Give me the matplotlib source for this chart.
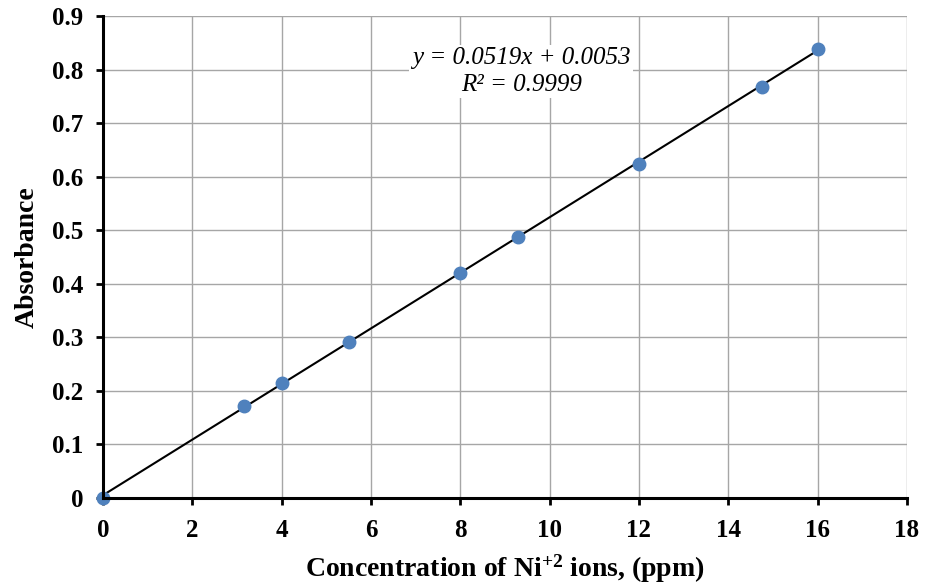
import matplotlib.pyplot as plt
import numpy as np

# concentrations (ppm) et absorbances mesurees
conc = [0, 3.15, 4.0, 5.5, 8.0, 9.3, 12.0, 14.75, 16.0]
absorb = [0, 0.172, 0.215, 0.292, 0.420, 0.487, 0.624, 0.767, 0.839]

# droite d'etalonnage
pente = 0.0519
ordonnee = 0.0053
r2 = 0.9999

x_ticks = [0, 2, 4, 6, 8, 10, 12, 14, 16, 18]
y_ticks = [0, 0.1, 0.2, 0.3, 0.4, 0.5, 0.6, 0.7, 0.8, 0.9]
y_labels = ['0', '0.1', '0.2', '0.3', '0.4', '0.5', '0.6', '0.7', '0.8', '0.9']

plt.rcParams['font.family'] = ['Liberation Serif', 'DejaVu Serif']
plt.rcParams['mathtext.default'] = 'regular'

fig = plt.figure(figsize=(9.35, 5.87), dpi=100)
ax = fig.add_axes([0.1102, 0.1516, 0.8598, 0.8211])

xl = np.array([conc[0], conc[-1]])
ax.plot(xl, pente * xl + ordonnee, color='black', lw=1.5, zorder=3)
ax.plot(conc, absorb, 'o', color='#4F81BD', ms=9, zorder=4, clip_on=False)

ax.set_xlim(0, 18)
ax.set_ylim(0, 0.9)
ax.set_xticks(x_ticks)
ax.set_yticks(y_ticks)
ax.set_yticklabels(y_labels)
ax.grid(True, color='#A6A6A6', lw=1.0)
ax.set_axisbelow(True)

for s in ['top', 'right']:
    ax.spines[s].set_visible(False)
for s in ['left', 'bottom']:
    ax.spines[s].set_linewidth(2.2)
    ax.spines[s].set_zorder(5)

ax.tick_params(direction='out', length=5, width=2, labelsize=18)
ax.tick_params(axis='x', pad=10)
ax.tick_params(axis='y', pad=9)
for lab in ax.get_xticklabels() + ax.get_yticklabels():
    lab.set_fontweight('bold')

ax.set_xlabel('Concentration of Ni$^{+2}$ ions, (ppm)', fontsize=20, fontweight='bold', labelpad=8)
ax.set_ylabel('Absorbance', fontsize=20, fontweight='bold', labelpad=9)

eq = 'y = %.4fx + %.4f\nR² = %.4f' % (pente, ordonnee, r2)
ax.text(0.5205, 0.885, eq, transform=ax.transAxes, ha='center', va='center',
        fontsize=18, style='italic', linespacing=1.25,
        bbox=dict(facecolor='white', edgecolor='none', pad=2), zorder=2)

fig.savefig('out.png', dpi=100)
